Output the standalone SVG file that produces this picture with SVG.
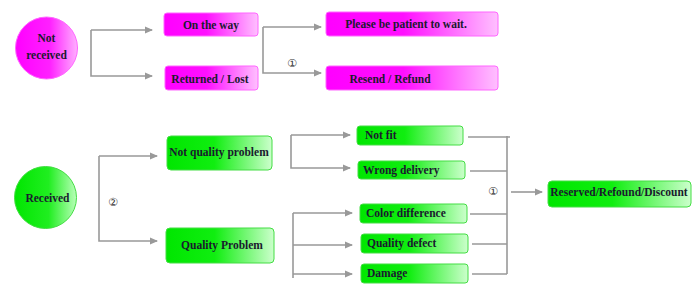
<svg xmlns="http://www.w3.org/2000/svg" width="700" height="294" viewBox="0 0 700 294">
<defs>
<linearGradient id="gm" x1="0" y1="0" x2="1" y2="0">
<stop offset="0" stop-color="#ff00ff"/><stop offset="0.45" stop-color="#ff10ff"/><stop offset="1" stop-color="#ffc0ff"/>
</linearGradient>
<linearGradient id="gg" x1="0" y1="0" x2="1" y2="0">
<stop offset="0" stop-color="#00e600"/><stop offset="0.45" stop-color="#10ee10"/><stop offset="1" stop-color="#ccffcc"/>
</linearGradient>
<linearGradient id="gmc" x1="0" y1="0" x2="1" y2="0">
<stop offset="0" stop-color="#ff00ff"/><stop offset="0.55" stop-color="#ff20ff"/><stop offset="1" stop-color="#ffb0ff"/>
</linearGradient>
<linearGradient id="ggc" x1="0" y1="0" x2="1" y2="0">
<stop offset="0" stop-color="#00e600"/><stop offset="0.55" stop-color="#20ee20"/><stop offset="1" stop-color="#b8ffb8"/>
</linearGradient>
<marker id="ar" markerWidth="8" markerHeight="8" refX="7" refY="4" orient="auto" markerUnits="userSpaceOnUse">
<path d="M0,0.5 L8,4 L0,7.5 Z" fill="#999"/>
</marker>
</defs>
<style>
.m{fill:url(#gm);stroke:#ff66ff;stroke-width:1}
.g{fill:url(#gg);stroke:#44dd44;stroke-width:1}
.t{font-family:"Liberation Serif",serif;font-weight:bold;font-size:11.5px;fill:#1a1a2e}
.c{text-anchor:middle}
.ln{fill:none;stroke:#999;stroke-width:1.6}
.n{font-family:"DejaVu Sans",sans-serif;font-size:11px;fill:#333;text-anchor:middle}
</style>
<g id="connectors">
<path class="ln" d="M91,30 H152" marker-end="url(#ar)"/>
<path class="ln" d="M91,30 V76 H152" marker-end="url(#ar)"/>
<path class="ln" d="M263,27 H321" marker-end="url(#ar)"/>
<path class="ln" d="M263,27 V73 H321" marker-end="url(#ar)"/>
<path class="ln" d="M99,156 H157" marker-end="url(#ar)"/>
<path class="ln" d="M99,156 V241 H157" marker-end="url(#ar)"/>
<path class="ln" d="M291,135 H350" marker-end="url(#ar)"/>
<path class="ln" d="M291,135 V168 H350" marker-end="url(#ar)"/>
<path class="ln" d="M293,213 V278"/>
<path class="ln" d="M293,213 H352" marker-end="url(#ar)"/>
<path class="ln" d="M293,245 H352" marker-end="url(#ar)"/>
<path class="ln" d="M293,274 H352" marker-end="url(#ar)"/>
<path class="ln" d="M468,137 H510 M507,136 V274 M470,171 H507 M470,214 H507 M472,244 H507 M472,274 H507"/>
<path class="ln" d="M511,192 H542" marker-end="url(#ar)"/>
<text class="n" x="292" y="67">①</text>
<text class="n" x="113" y="206">②</text>
<text class="n" x="493" y="195">①</text>
</g>
<g id="not-received">
<circle cx="46.5" cy="48" r="31" fill="url(#gmc)" stroke="#ff66ff"/>
<text class="t c" x="46.5" y="42">Not</text>
<text class="t c" x="46.5" y="59">received</text>
</g>
<g id="on-the-way"><rect class="m" x="164" y="13" width="94" height="23" rx="3"/><text class="t c" x="211" y="29">On the way</text></g>
<g id="returned-lost"><rect class="m" x="165" y="66" width="93" height="24" rx="3"/><text class="t c" x="210" y="83">Returned / Lost</text></g>
<g id="please-wait"><rect class="m" x="326" y="12" width="172" height="24" rx="3"/><text class="t c" x="406" y="28">Please be patient to wait.</text></g>
<g id="resend-refund"><rect class="m" x="326" y="66" width="172" height="24" rx="3"/><text class="t c" x="390" y="83">Resend / Refund</text></g>
<g id="received">
<circle cx="45.5" cy="197.5" r="31" fill="url(#ggc)" stroke="#44dd44"/>
<text class="t c" x="47.5" y="202">Received</text>
</g>
<g id="not-quality-problem"><rect class="g" x="167" y="136" width="105" height="34" rx="4"/><text class="t c" x="219" y="156">Not quality problem</text></g>
<g id="quality-problem"><rect class="g" x="166" y="228" width="108" height="35" rx="4"/><text class="t c" x="222" y="249">Quality Problem</text></g>
<g id="not-fit"><rect class="g" x="357" y="126" width="106" height="19" rx="3"/><text class="t" x="365" y="139">Not fit</text></g>
<g id="wrong-delivery"><rect class="g" x="358" y="161" width="107" height="18" rx="3"/><text class="t" x="363" y="174">Wrong delivery</text></g>
<g id="color-difference"><rect class="g" x="360" y="204" width="107" height="19" rx="3"/><text class="t" x="366" y="217">Color difference</text></g>
<g id="quality-defect"><rect class="g" x="361" y="234" width="107" height="19" rx="3"/><text class="t" x="367" y="247">Quality defect</text></g>
<g id="damage"><rect class="g" x="361" y="264" width="107" height="19" rx="3"/><text class="t" x="367" y="277">Damage</text></g>
<g id="reserved-refound-discount"><rect class="g" x="548" y="181" width="143" height="26" rx="4"/><text class="t c" x="619" y="196">Reserved/Refound/Discount</text></g>
</svg>
